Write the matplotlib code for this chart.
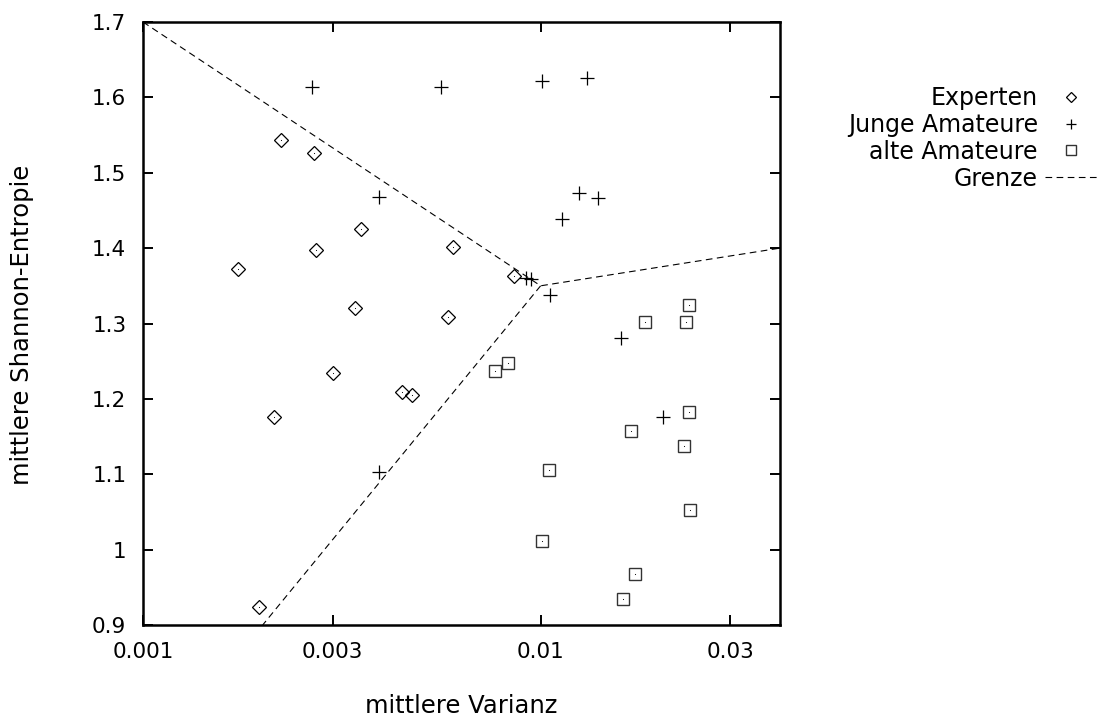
import numpy as np
import matplotlib.pyplot as plt

plt.rcParams['font.family'] = ['DejaVu Sans']
plt.rcParams['font.size'] = 15.5

# mittlere Varianz / mittlere Shannon-Entropie per Gruppe
exp_x = [0.00222, 0.00269, 0.00353, 0.00273, 0.00602, 0.00173, 0.00342,
         0.00585, 0.00300, 0.00449, 0.00474, 0.00213, 0.00196, 0.00857]
exp_y = [1.544, 1.526, 1.426, 1.397, 1.402, 1.372, 1.321,
         1.309, 1.234, 1.209, 1.205, 1.176, 0.924, 1.363]

jung_x = [0.00266, 0.00563, 0.01006, 0.01307, 0.00392, 0.01248, 0.01393,
          0.01131, 0.00920, 0.00948, 0.01058, 0.01591, 0.02037, 0.00393]
jung_y = [1.614, 1.614, 1.622, 1.626, 1.468, 1.473, 1.466,
          1.438, 1.360, 1.359, 1.338, 1.281, 1.176, 1.103]

alt_x = [0.02364, 0.01832, 0.02327, 0.00826, 0.00768, 0.02364, 0.01683,
         0.02291, 0.01047, 0.02378, 0.01008, 0.01725, 0.01616]
alt_y = [1.325, 1.302, 1.302, 1.248, 1.237, 1.183, 1.157,
         1.137, 1.106, 1.053, 1.011, 0.967, 0.934]

# Grenzlinien, alle vom Knoten bei (0.01, 1.35)
grenze_x = [0.001, 0.01, 0.04, np.nan, 0.01, 0.002]
grenze_y = [1.7, 1.35, 1.4, np.nan, 1.35, 0.9]

xticks = [0.001, 0.003, 0.01, 0.03]
xticklabels = ['0.001', '0.003', '0.01', '0.03']
yticks = [0.9, 1.0, 1.1, 1.2, 1.3, 1.4, 1.5, 1.6, 1.7]
yticklabels = ['0.9', '1', '1.1', '1.2', '1.3', '1.4', '1.5', '1.6', '1.7']


def main():
    fig = plt.figure(figsize=(11.01, 7.2), dpi=100)
    ax = fig.add_axes([143 / 1101, 1 - 625 / 720, 637 / 1101, 603 / 720])

    ax.plot(exp_x, exp_y, 'D', ms=6.8, mfc='none', mec='black', mew=0.9,
            label='Experten')
    ax.plot(jung_x, jung_y, '+', ms=9.5, mec='black', mew=0.9,
            label='Junge Amateure')
    ax.plot(alt_x, alt_y, 's', ms=9, mfc='none', mec='#333333', mew=1.0,
            label='alte Amateure')
    # gnuplot-artige Punkte in der Mitte der Symbole
    ax.plot(exp_x + alt_x, exp_y + alt_y, 'o', ms=0.8, mfc='black',
            mec='none')
    ax.plot(grenze_x, grenze_y, color='black', lw=0.8, dashes=(6, 4),
            label='Grenze')

    ax.set_xscale('log')
    ax.set_xlim(0.001, 0.04)
    ax.set_ylim(0.9, 1.7)
    ax.set_xticks(xticks)
    ax.set_xticklabels(xticklabels)
    ax.xaxis.set_minor_locator(plt.NullLocator())
    ax.set_yticks(yticks)
    ax.set_yticklabels(yticklabels)

    ax.tick_params(direction='in', length=7.5, width=1.4, top=True,
                   right=True, pad=12)
    for s in ax.spines.values():
        s.set_linewidth(1.8)

    fig.text(461 / 1101, 1 - 706 / 720, 'mittlere Varianz',
             ha='center', va='center', fontsize=17.5)
    fig.text(22 / 1101, 1 - 325 / 720, 'mittlere Shannon-Entropie',
             ha='center', va='center', rotation=90, fontsize=17.5)

    ax.legend(loc='upper right', bbox_to_anchor=(1097 / 1101, 1 - 86 / 720),
              bbox_transform=fig.transFigure, frameon=False, fontsize=17,
              markerfirst=False, borderpad=0, borderaxespad=0,
              handlelength=2.2, handletextpad=0.3, labelspacing=0.12,
              markerscale=0.8)

    fig.savefig('out.png', dpi=100)


if __name__ == "__main__":
    main()
